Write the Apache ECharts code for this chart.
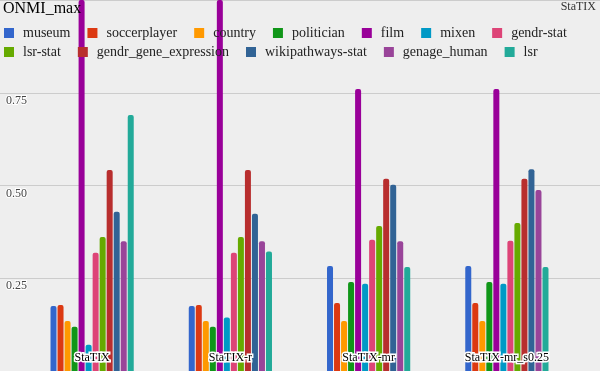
<!DOCTYPE html>
<html>
<head>
<meta charset="utf-8">
<script src="https://cdn.jsdelivr.net/npm/echarts@6/dist/echarts.min.js"></script>
<style>html,body{margin:0;padding:0;background:#eeeeee;}#c{width:600px;height:371px;}</style>
</head>
<body>
<div id="c"></div>
<script>
const categories = ['StaTIX', 'StaTIX-r', 'StaTIX-mr', 'StaTIX-mr_s0.25'];
const seriesNames = ['museum', 'soccerplayer', 'country', 'politician', 'film', 'mixen', 'gendr-stat',
  'lsr-stat', 'gendr_gene_expression', 'wikipathways-stat', 'genage_human', 'lsr'];
const museum = [0.175, 0.175, 0.283, 0.283];
const soccerplayer = [0.178, 0.178, 0.183, 0.183];
const country = [0.135, 0.135, 0.135, 0.135];
const politician = [0.119, 0.119, 0.240, 0.240];
const film = [1.0, 1.0, 0.760, 0.760];
const mixen = [0.071, 0.144, 0.235, 0.235];
const gendrStat = [0.319, 0.319, 0.354, 0.351];
const lsrStat = [0.361, 0.361, 0.391, 0.399];
const gendrGeneExpression = [0.542, 0.542, 0.518, 0.518];
const wikipathwaysStat = [0.429, 0.424, 0.502, 0.544];
const genageHuman = [0.350, 0.350, 0.350, 0.488];
const lsr = [0.690, 0.322, 0.280, 0.280];
const yTicks = [0, 0.25, 0.5, 0.75, 1];

const values = [museum, soccerplayer, country, politician, film, mixen, gendrStat,
  lsrStat, gendrGeneExpression, wikipathwaysStat, genageHuman, lsr];
const colors = ['#3366cc', '#dc3912', '#ff9900', '#109618', '#990099', '#0099c6', '#dd4477',
  '#66aa00', '#b82e2e', '#316395', '#994499', '#22aa99'];

const FONT = 'Liberation Serif';
const chart = echarts.init(document.getElementById('c'), null, {renderer: 'canvas'});
const legendBase = {
  left: 4, padding: 0, itemWidth: 10, itemHeight: 10, itemGap: 17,
  icon: 'rect',
  textStyle: {fontFamily: FONT, fontSize: 14, color: '#222', padding: [0, 0, 0, 4]}
};
chart.setOption({
  backgroundColor: '#eeeeee',
  color: colors,
  animation: false,
  title: [
    {text: 'ONMI_max', left: 3, top: 1, padding: 0,
      textStyle: {fontFamily: FONT, fontSize: 16, fontWeight: 'normal', color: '#000'}},
    {text: 'StaTIX', right: 4, top: 1, padding: 0,
      textStyle: {fontFamily: FONT, fontSize: 12, fontWeight: 'normal', color: '#333'}}
  ],
  legend: [
    Object.assign({}, legendBase, {top: 26, data: seriesNames.slice(0, 7)}),
    Object.assign({}, legendBase, {top: 45, data: seriesNames.slice(7)})
  ],
  grid: [
    {left: 23, right: 24, top: 0, bottom: 0},
    {left: 0, right: 0, top: 0, bottom: 0}
  ],
  xAxis: [
    {type: 'category', gridIndex: 0, data: categories, z: 10,
      axisLine: {show: false}, axisTick: {show: false},
      axisLabel: {inside: true, margin: 7, fontFamily: FONT, fontSize: 12, color: '#000',
        textBorderColor: '#fff', textBorderWidth: 3}},
    {type: 'value', gridIndex: 1, min: 0, max: 1, show: false}
  ],
  yAxis: [
    {type: 'value', gridIndex: 0, min: yTicks[0], max: yTicks[yTicks.length - 1], interval: 0.25, show: false},
    {type: 'value', gridIndex: 1, min: yTicks[0], max: yTicks[yTicks.length - 1], interval: 0.25,
      axisLine: {show: false}, axisTick: {show: false},
      splitLine: {lineStyle: {color: '#cccccc', width: 1}},
      axisLabel: {inside: true, margin: 6, verticalAlign: 'top', padding: [2, 0, 0, 0],
        showMinLabel: false, showMaxLabel: false,
        fontFamily: FONT, fontSize: 12, color: '#444',
        textBorderColor: '#fff', textBorderWidth: 2,
        formatter: v => v.toFixed(2)}}
  ],
  series: seriesNames.map((n, i) => ({
    name: n, type: 'bar', xAxisIndex: 0, yAxisIndex: 0,
    barWidth: 6, barGap: '17%', clip: true,
    itemStyle: {borderRadius: [2, 2, 0, 0]},
    data: values[i]
  }))
});
</script>
</body>
</html>
